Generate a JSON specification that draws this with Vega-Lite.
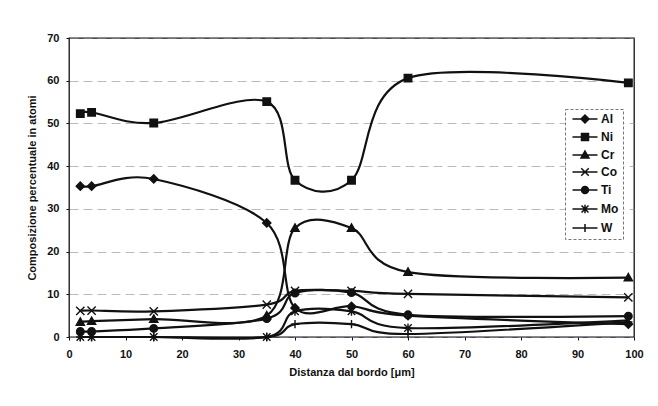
{
  "$schema": "https://vega.github.io/schema/vega-lite/v6.json",
  "autosize": {"type": "none"},
  "padding": {"left": 69, "top": 38, "right": 24, "bottom": 69},
  "width": 565,
  "height": 299,
  "background": "white",
  "config": {
    "font": "Liberation Sans",
    "view": {"stroke": "#111", "strokeWidth": 1.3},
    "legend": {"strokeWidth": 1, "strokeDash": [3, 2]}
  },
  "data": {"values": [
    {"x": 2, "el": "Al", "v": 35.3}, {"x": 4, "el": "Al", "v": 35.3}, {"x": 15, "el": "Al", "v": 37.0}, {"x": 35, "el": "Al", "v": 26.7}, {"x": 40, "el": "Al", "v": 6.8}, {"x": 50, "el": "Al", "v": 7.2}, {"x": 60, "el": "Al", "v": 5.0}, {"x": 99, "el": "Al", "v": 3.0},
    {"x": 2, "el": "Ni", "v": 52.3}, {"x": 4, "el": "Ni", "v": 52.6}, {"x": 15, "el": "Ni", "v": 50.1}, {"x": 35, "el": "Ni", "v": 55.1}, {"x": 40, "el": "Ni", "v": 36.7}, {"x": 50, "el": "Ni", "v": 36.7}, {"x": 60, "el": "Ni", "v": 60.6}, {"x": 99, "el": "Ni", "v": 59.5},
    {"x": 2, "el": "Cr", "v": 3.5}, {"x": 4, "el": "Cr", "v": 3.7}, {"x": 15, "el": "Cr", "v": 4.2}, {"x": 35, "el": "Cr", "v": 5.0}, {"x": 40, "el": "Cr", "v": 25.5}, {"x": 50, "el": "Cr", "v": 25.5}, {"x": 60, "el": "Cr", "v": 15.2}, {"x": 99, "el": "Cr", "v": 13.9},
    {"x": 2, "el": "Co", "v": 6.1}, {"x": 4, "el": "Co", "v": 6.2}, {"x": 15, "el": "Co", "v": 6.0}, {"x": 35, "el": "Co", "v": 7.6}, {"x": 40, "el": "Co", "v": 10.8}, {"x": 50, "el": "Co", "v": 10.8}, {"x": 60, "el": "Co", "v": 10.1}, {"x": 99, "el": "Co", "v": 9.3},
    {"x": 2, "el": "Ti", "v": 1.3}, {"x": 4, "el": "Ti", "v": 1.3}, {"x": 15, "el": "Ti", "v": 2.0}, {"x": 35, "el": "Ti", "v": 4.3}, {"x": 40, "el": "Ti", "v": 10.3}, {"x": 50, "el": "Ti", "v": 10.4}, {"x": 60, "el": "Ti", "v": 5.2}, {"x": 99, "el": "Ti", "v": 4.9},
    {"x": 2, "el": "Mo", "v": 0.0}, {"x": 4, "el": "Mo", "v": 0.0}, {"x": 15, "el": "Mo", "v": 0.0}, {"x": 35, "el": "Mo", "v": 0.0}, {"x": 40, "el": "Mo", "v": 6.0}, {"x": 50, "el": "Mo", "v": 6.0}, {"x": 60, "el": "Mo", "v": 2.1}, {"x": 99, "el": "Mo", "v": 3.9},
    {"x": 2, "el": "W", "v": 0.0}, {"x": 4, "el": "W", "v": 0.0}, {"x": 15, "el": "W", "v": 0.0}, {"x": 35, "el": "W", "v": 0.0}, {"x": 40, "el": "W", "v": 3.0}, {"x": 50, "el": "W", "v": 3.0}, {"x": 60, "el": "W", "v": 0.7}, {"x": 99, "el": "W", "v": 3.5}
  ]},
  "encoding": {
    "x": {
      "field": "x", "type": "quantitative",
      "scale": {"domain": [0, 100], "nice": false, "zero": false},
      "axis": {
        "title": "Distanza dal bordo [μm]",
        "values": [0, 10, 20, 30, 40, 50, 60, 70, 80, 90, 100],
        "grid": false, "domain": false,
        "ticks": true, "tickSize": 3, "tickColor": "#111",
        "labelFont": "Liberation Sans", "labelFontWeight": "bold", "labelFontSize": 11, "labelColor": "#111",
        "labelPadding": 8, "labelFlush": false,
        "titleFont": "Liberation Sans", "titleFontWeight": "bold", "titleFontSize": 11, "titleColor": "#111",
        "titlePadding": 7
      }
    },
    "y": {
      "field": "v", "type": "quantitative",
      "scale": {"domain": [0, 70], "nice": false},
      "axis": {
        "title": "Composizione percentuale in atomi",
        "values": [0, 10, 20, 30, 40, 50, 60, 70],
        "grid": true, "gridColor": "#8a8aa8", "gridDash": [9, 5], "gridWidth": 1, "gridOpacity": 0.6,
        "domain": false,
        "ticks": true, "tickSize": 3, "tickColor": "#111",
        "labelFont": "Liberation Sans", "labelFontWeight": "bold", "labelFontSize": 11, "labelColor": "#111",
        "labelPadding": 7,
        "titleFont": "Liberation Sans", "titleFontWeight": "bold", "titleFontSize": 11, "titleColor": "#111",
        "titlePadding": 9
      }
    }
  },
  "layer": [
    {
      "mark": {"type": "line", "interpolate": "cardinal", "tension": 0, "color": "#111", "strokeWidth": 2.2},
      "encoding": {"detail": {"field": "el"}}
    },
    {
      "mark": {"type": "point", "filled": true, "fill": "#111", "stroke": "#111", "strokeWidth": 1.4, "size": 56, "opacity": 1},
      "encoding": {
        "shape": {
          "field": "el", "type": "nominal",
          "scale": {
            "domain": ["Al", "Ni", "Cr", "Co", "Ti", "Mo", "W"],
            "range": [
              "M0,-1.1L1.1,0L0,1.1L-1.1,0Z",
              "M-1,-1L1,-1L1,1L-1,1Z",
              "M0,-1.1L1.1,0.85L-1.1,0.85Z",
              "M-1.1,-1.1L1.1,1.1M-1.1,1.1L1.1,-1.1",
              "M-1,0A1,1 0 1,0 1,0A1,1 0 1,0 -1,0Z",
              "M-1,-1L1,1M-1,1L1,-1M0,-1.2L0,1.2",
              "M-1.1,0L1.1,0M0,-1.1L0,1.1"
            ]
          },
          "legend": null
        }
      }
    },
    {
      "mark": {"type": "point", "filled": false, "color": "#111", "stroke": "#111", "strokeWidth": 1.5, "size": 100, "opacity": 0},
      "encoding": {
        "shape": {
          "field": "el", "type": "nominal",
          "scale": {
            "domain": ["Al", "Ni", "Cr", "Co", "Ti", "Mo", "W"],
            "range": [
              "M-2.5,0L2.5,0M0,-0.8L0.8,0L0,0.8L-0.8,0ZM0,-0.55L0.55,0L0,0.55L-0.55,0ZM0,-0.3L0.3,0L0,0.3L-0.3,0ZM0,-0.1L0.1,0L0,0.1L-0.1,0Z",
              "M-2.5,0L2.5,0M-0.7,-0.7L0.7,-0.7L0.7,0.7L-0.7,0.7ZM-0.45,-0.45L0.45,-0.45L0.45,0.45L-0.45,0.45ZM-0.2,-0.2L0.2,-0.2L0.2,0.2L-0.2,0.2Z",
              "M-2.5,0L2.5,0M0,-0.8L0.8,0.6L-0.8,0.6ZM0,-0.43L0.48,0.41L-0.48,0.41ZM0,-0.1L0.2,0.23L-0.2,0.23Z",
              "M-2.5,0L2.5,0M-0.75,-0.75L0.75,0.75M-0.75,0.75L0.75,-0.75",
              "M-2.5,0L2.5,0M-0.7,0A0.7,0.7 0 1,0 0.7,0A0.7,0.7 0 1,0 -0.7,0ZM-0.45,0A0.45,0.45 0 1,0 0.45,0A0.45,0.45 0 1,0 -0.45,0ZM-0.2,0A0.2,0.2 0 1,0 0.2,0A0.2,0.2 0 1,0 -0.2,0Z",
              "M-2.5,0L2.5,0M-0.7,-0.7L0.7,0.7M-0.7,0.7L0.7,-0.7M0,-0.85L0,0.85",
              "M-2.5,0L2.5,0M0,-0.8L0,0.8"
            ]
          },
          "legend": {
            "title": null,
            "orient": "none",
            "legendX": 496,
            "legendY": 71,
            "symbolSize": 100,
            "symbolStrokeColor": "#111",
            "symbolStrokeWidth": 1.5,
            "symbolOpacity": 1,
            "symbolOffset": 10,
            "labelFont": "Liberation Sans",
            "labelFontWeight": "bold",
            "labelFontSize": 12,
            "labelColor": "#111",
            "labelOffset": 10,
            "rowPadding": 4,
            "padding": 4,
            "strokeColor": "#777",
            "fillColor": "white"
          }
        }
      }
    }
  ],
  "resolve": {"scale": {"shape": "independent"}}
}
